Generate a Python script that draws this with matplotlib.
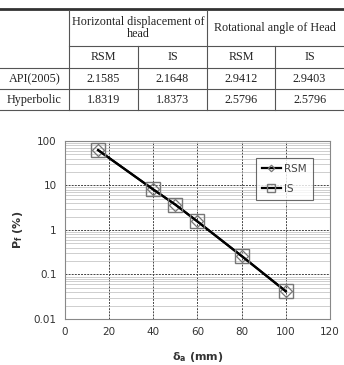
import matplotlib
matplotlib.use("Agg")
import matplotlib.pyplot as plt
from matplotlib.ticker import FixedLocator, LogLocator, NullFormatter

# table data
col_groups = ["Horizontal displacement of\nhead", "Rotational angle of Head"]
sub_cols = ["RSM", "IS", "RSM", "IS"]
row_names = ["API(2005)", "Hyperbolic"]
table_vals = [["2.1585", "2.1648", "2.9412", "2.9403"],
              ["1.8319", "1.8373", "2.5796", "2.5796"]]

# chart data
delta = [15, 40, 50, 60, 80, 100]
pf_rsm = [62, 8.1, 3.7, 1.55, 0.26, 0.042]
pf_is = [62, 8.1, 3.7, 1.55, 0.26, 0.042]

fig = plt.figure(figsize=(3.44, 3.65), dpi=100)

# ---- table drawn in pixel coords ----
tab = fig.add_axes([0, 0, 1, 1])
tab.set_xlim(0, 344)
tab.set_ylim(365, 0)
tab.axis("off")
lc = "#555555"
tab.plot([0, 344], [9, 9], color="#333333", lw=2)
tab.plot([69, 344], [46, 46], color=lc, lw=0.8)
for yy in [68, 89, 110]:
    tab.plot([0, 344], [yy, yy], color=lc, lw=0.8)
for xx in [69, 207]:
    tab.plot([xx, xx], [10, 110], color=lc, lw=0.8)
for xx in [138, 275]:
    tab.plot([xx, xx], [46, 110], color=lc, lw=0.8)

tf = dict(family="Liberation Serif", fontsize=8.7, color="#222222",
          ha="center", va="center")
tab.text(138, 28, col_groups[0], linespacing=1.1, **tf)
tab.text(275, 28, col_groups[1], **tf)
col_x = [103.5, 172.5, 241, 309.5]
for cx, name in zip(col_x, sub_cols):
    tab.text(cx, 57, name, **tf)
for ry, rname, vals in zip([79, 100], row_names, table_vals):
    tab.text(34.5, ry, rname, **tf)
    for cx, v in zip(col_x, vals):
        tab.text(cx, ry, v, **tf)

# ---- chart ----
ax = fig.add_axes([0.189, 0.126, 0.77, 0.488])
ax.set_yscale("log")
ax.plot(delta, pf_rsm, color="black", lw=1.6, marker="D", ms=6,
        mfc="none", mec="#777777", mew=0.9, label="RSM")
ax.plot(delta, pf_is, color="black", lw=1.6, marker="s", ms=10,
        mfc="none", mec="#777777", mew=1.0, label="IS")
ax.set_xlim(0, 120)
ax.set_ylim(0.01, 100)
ax.xaxis.set_major_locator(FixedLocator([0, 20, 40, 60, 80, 100, 120]))
ax.yaxis.set_major_locator(FixedLocator([0.01, 0.1, 1, 10, 100]))
ax.set_yticklabels(["0.01", "0.1", "1", "10", "100"])
ax.yaxis.set_minor_locator(LogLocator(base=10, subs=range(2, 10)))
ax.yaxis.set_minor_formatter(NullFormatter())
ax.grid(which="major", axis="both", color="#444444", ls=(0, (2, 1.2)), lw=0.7)
ax.grid(which="minor", axis="y", color="#bbbbbb", ls="-", lw=0.5)
ax.tick_params(which="both", length=0, labelsize=7.5, colors="#333333", pad=6)
for s in ax.spines.values():
    s.set_color("#888888")
    s.set_linewidth(0.8)
ax.set_ylabel(r"$\mathbf{P_f}$ (%)", fontsize=8, fontweight="bold",
              color="#333333", labelpad=6)
ax.set_xlabel(r"$\mathbf{\delta_a}$ (mm)", fontsize=8, fontweight="bold",
              color="#333333", labelpad=9)
leg = ax.legend(loc="upper right", bbox_to_anchor=(0.955, 0.935), fontsize=7.5,
                frameon=True, fancybox=False, edgecolor="#444444",
                handlelength=1.8, handletextpad=0.3, borderpad=0.6,
                labelspacing=0.95, markerscale=0.55)
leg.get_frame().set_linewidth(0.8)
for t in leg.get_texts():
    t.set_color("#444444")

fig.savefig("out.png", dpi=100)
